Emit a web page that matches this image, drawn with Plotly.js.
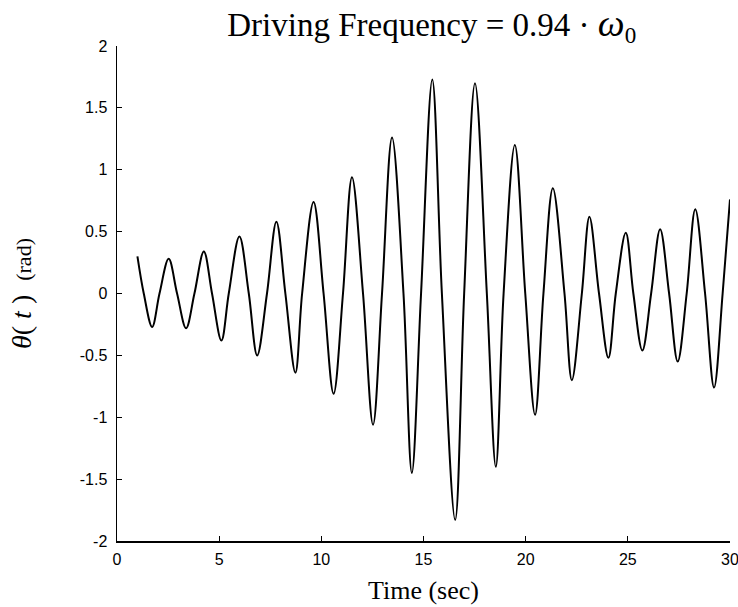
<!DOCTYPE html>
<html>
<head>
<meta charset="utf-8">
<script src="https://cdn.plot.ly/plotly-3.0.1.min.js"></script>
<style>html,body{margin:0;padding:0;background:#fff;}#chart{width:738px;height:607px;}</style>
</head>
<body>
<div id="chart"></div>
<script>
// Time samples (sec): extrema and zero crossings
const timeSec = [1.00, 1.31, 1.72, 2.08, 2.53, 2.94, 3.38, 3.79, 4.25, 4.65, 5.11, 5.47, 5.99, 6.45, 6.86, 7.34, 7.80, 8.24, 8.73, 9.06, 9.62, 10.11, 10.60, 11.06, 11.50, 12.04, 12.53, 12.97, 13.46, 14.02, 14.43, 14.88, 15.43, 15.90, 16.55, 16.99, 17.52, 18.10, 18.54, 18.92, 19.47, 19.98, 20.46, 20.87, 21.33, 21.90, 22.26, 22.75, 23.12, 23.59, 24.05, 24.41, 24.90, 25.27, 25.71, 26.14, 26.58, 27.02, 27.44, 27.88, 28.30, 28.78, 29.22, 29.64, 30.00];
// Angle theta(t) in rad
const thetaRad = [0.30, 0, -0.27, 0, 0.28, 0, -0.28, 0, 0.34, 0, -0.38, 0, 0.46, 0, -0.50, 0, 0.58, 0, -0.64, 0, 0.74, 0, -0.81, 0, 0.94, 0, -1.06, 0, 1.26, 0, -1.45, 0, 1.73, 0, -1.83, 0, 1.70, 0, -1.40, 0, 1.20, 0, -0.98, 0, 0.85, 0, -0.70, 0, 0.62, 0, -0.52, 0, 0.49, 0, -0.46, 0, 0.52, 0, -0.55, 0, 0.68, 0, -0.76, 0, 0.76];

const xTickVals = [0, 5, 10, 15, 20, 25, 30];
const xTickText = ["0", "5", "10", "15", "20", "25", "30"];
const yTickVals = [-2, -1.5, -1, -0.5, 0, 0.5, 1, 1.5, 2];
const yTickText = ["-2", "-1.5", "-1", "-0.5", "0", "0.5", "1", "1.5", "2"];

const trace = {
  x: timeSec, y: thetaRad, type: 'scatter', mode: 'lines',
  line: {color: '#000', width: 2, shape: 'spline', smoothing: 1},
  hoverinfo: 'skip'
};

const tickFont = {family: 'Liberation Sans, Arial, sans-serif', size: 16, color: '#000'};

const layout = {
  width: 738, height: 607,
  margin: {l: 117, r: 8, t: 46, b: 66},
  paper_bgcolor: '#fff', plot_bgcolor: '#fff',
  showlegend: false,
  title: {
    text: 'Driving Frequency = 0.94 · <i><span style="font-size:38px">ω</span></i><sub>0</sub>',
    font: {family: 'Liberation Serif, Times New Roman, serif', size: 33, color: '#000'},
    x: 0.585, xanchor: 'center', y: 0.94, yanchor: 'bottom'
  },
  xaxis: {
    range: [0, 30], tickvals: xTickVals, ticktext: xTickText,
    ticks: 'inside', ticklen: 5, tickcolor: '#000', tickwidth: 1,
    showline: true, linecolor: '#000', linewidth: 1.5, mirror: false,
    showgrid: false, zeroline: false, tickfont: tickFont, ticklabelstandoff: 3,
    ticklabeloverflow: 'allow',
    title: {text: 'Time (sec)', font: {family: 'Liberation Serif, Times New Roman, serif', size: 26, color: '#000'}, standoff: 14}
  },
  yaxis: {
    range: [-2, 2], tickvals: yTickVals, ticktext: yTickText,
    ticks: 'inside', ticklen: 5, tickcolor: '#000', tickwidth: 1,
    showline: true, linecolor: '#000', linewidth: 1.5, mirror: false,
    showgrid: false, zeroline: false, tickfont: tickFont, ticklabelstandoff: 5,
    title: {text: '<i>θ</i>( <i>t</i> )  <span style="font-size:22px">(rad)</span>', font: {family: 'Liberation Serif, Times New Roman, serif', size: 28, color: '#000'}, standoff: 40}
  }
};

Plotly.newPlot('chart', [trace], layout, {staticPlot: true, displayModeBar: false});
</script>
</body>
</html>
